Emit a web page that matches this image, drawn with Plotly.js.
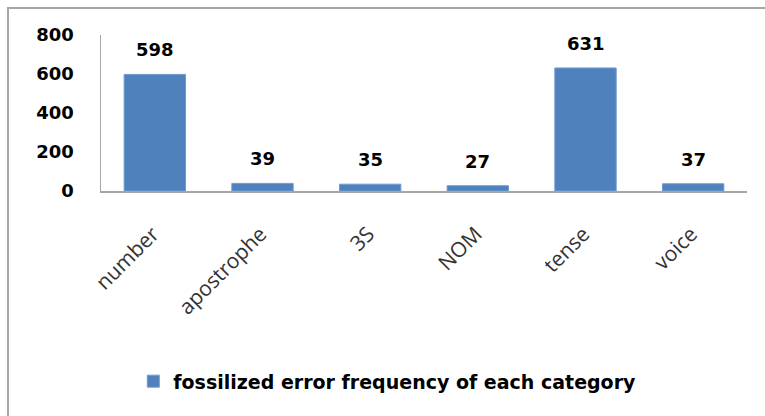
<!DOCTYPE html>
<html>
<head>
<meta charset="utf-8">
<script src="https://cdn.plot.ly/plotly-3.0.1.min.js"></script>
<style>
  html, body { margin: 0; padding: 0; background: #fff; }
  #frame { position: absolute; left: 7px; top: 7px; width: 770px; height: 420px;
           border-left: 2px solid #a6a6a6; border-top: 2px solid #a6a6a6; }
  #chart { position: absolute; left: 0; top: 0; width: 765px; height: 416px; }
</style>
</head>
<body>
<div id="frame"></div>
<div id="chart"></div>
<script>
const categories = ["number", "apostrophe", "3S", "NOM", "tense", "voice"];
const frequencies = [598, 39, 35, 27, 631, 37];
const seriesName = "fossilized error frequency of each category";
const yTickValues = [0, 200, 400, 600, 800];

const labelFont = { family: "DejaVu Sans", size: 18, color: "#000", weight: "bold" };

const trace = {
  type: "bar",
  x: categories,
  y: frequencies,
  name: seriesName,
  marker: { color: "#4F81BD", line: { color: "#6f9ad0", width: 1 } },
  width: 0.57,
  hoverinfo: "x+y"
};

const annotations = categories.map((c, i) => ({
  x: c, y: frequencies[i], xref: "x", yref: "y",
  text: String(frequencies[i]),
  showarrow: false, yanchor: "bottom", yshift: 12,
  font: labelFont
}));

const layout = {
  width: 765, height: 416,
  margin: { l: 101, r: 18, t: 35, b: 225 },
  paper_bgcolor: "rgba(0,0,0,0)",
  plot_bgcolor: "rgba(0,0,0,0)",
  showlegend: true,
  legend: {
    orientation: "h", x: 0.05, xanchor: "left", y: -1.22, yanchor: "middle",
    font: { family: "DejaVu Sans", size: 19, color: "#000", weight: "bold" },
    itemwidth: 30, bgcolor: "rgba(0,0,0,0)"
  },
  xaxis: {
    type: "category",
    showline: true, linecolor: "#a6a6a6", linewidth: 1.5,
    showgrid: false, zeroline: false, ticks: "",
    tickangle: -45,
    ticklabelshift: -2,
    ticklabelstandoff: 21,
    tickfont: { family: "Open Sans", size: 21, color: "#333" }
  },
  yaxis: {
    range: [0, 800],
    tickvals: yTickValues,
    ticktext: yTickValues.map(String),
    showline: true, linecolor: "#a6a6a6", linewidth: 1.5,
    showgrid: false, zeroline: false, ticks: "",
    ticklabelstandoff: 22,
    tickfont: { family: "DejaVu Sans", size: 18, color: "#000", weight: "bold" }
  },
  annotations: annotations,
  bargap: 0.43
};

Plotly.newPlot("chart", [trace], layout, { staticPlot: true, displayModeBar: false });
</script>
</body>
</html>
